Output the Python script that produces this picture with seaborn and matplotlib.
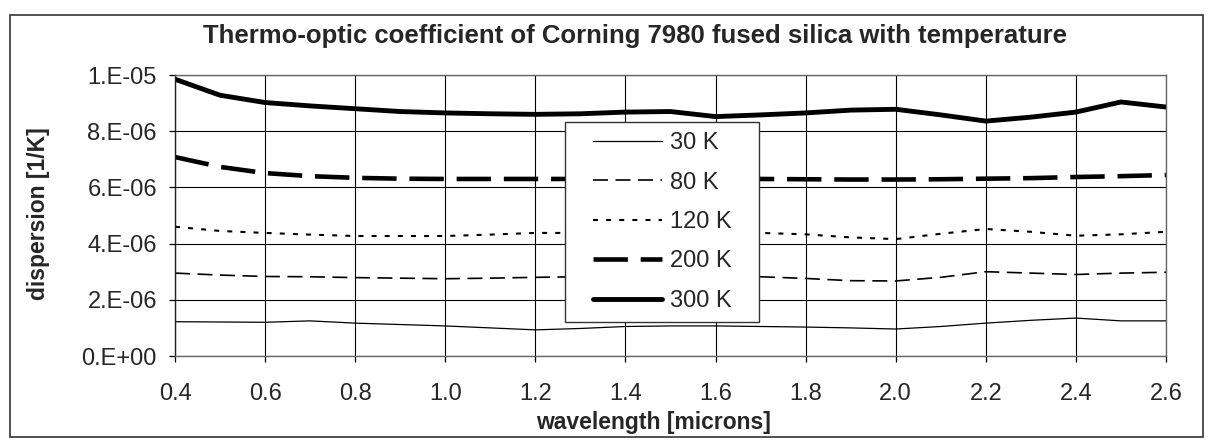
import matplotlib
matplotlib.use("Agg")
import matplotlib.pyplot as plt
import seaborn as sns
import numpy as np
import pandas as pd
from matplotlib.patches import Rectangle

# ---------------- data ----------------
wavelength = [0.4, 0.5, 0.6, 0.7, 0.8, 0.9, 1.0, 1.1, 1.2, 1.3, 1.4, 1.5,
              1.6, 1.7, 1.8, 1.9, 2.0, 2.1, 2.2, 2.3, 2.4, 2.5, 2.6]

k30 = [1.22, 1.21, 1.20, 1.25, 1.17, 1.12, 1.07, 1.00, 0.93, 0.98, 1.05, 1.07,
       1.07, 1.05, 1.03, 1.00, 0.96, 1.05, 1.17, 1.27, 1.35, 1.25, 1.25]
k80 = [2.95, 2.88, 2.83, 2.82, 2.79, 2.77, 2.75, 2.77, 2.80, 2.82, 2.82, 2.82,
       2.82, 2.82, 2.76, 2.68, 2.67, 2.80, 3.00, 2.95, 2.90, 2.95, 2.98]
k120 = [4.60, 4.45, 4.38, 4.32, 4.27, 4.27, 4.27, 4.32, 4.38, 4.38, 4.38, 4.38,
        4.38, 4.38, 4.33, 4.22, 4.16, 4.35, 4.52, 4.42, 4.28, 4.33, 4.42]
k200 = [7.08, 6.73, 6.51, 6.40, 6.34, 6.31, 6.30, 6.30, 6.30, 6.30, 6.30, 6.30,
        6.30, 6.30, 6.29, 6.28, 6.28, 6.29, 6.31, 6.33, 6.37, 6.40, 6.44]
k300 = [9.85, 9.28, 9.02, 8.90, 8.80, 8.70, 8.65, 8.62, 8.60, 8.62, 8.68, 8.70,
        8.52, 8.58, 8.65, 8.75, 8.78, 8.58, 8.36, 8.50, 8.68, 9.04, 8.86]
scale = 1e-6

series_labels = ["30 K", "80 K", "120 K", "200 K", "300 K"]
series_values = [k30, k80, k120, k200, k300]

x_ticks = [0.4, 0.6, 0.8, 1.0, 1.2, 1.4, 1.6, 1.8, 2.0, 2.2, 2.4, 2.6]
x_tick_labels = ["0.4", "0.6", "0.8", "1.0", "1.2", "1.4", "1.6", "1.8",
                 "2.0", "2.2", "2.4", "2.6"]
y_ticks = [0, 2e-6, 4e-6, 6e-6, 8e-6, 1e-5]
y_tick_labels = ["0.E+00", "2.E-06", "4.E-06", "6.E-06", "8.E-06", "1.E-05"]

title = "Thermo-optic coefficient of Corning 7980 fused silica with temperature"
xlabel = "wavelength [microns]"
ylabel = "dispersion [1/K]"

# ---------------- styling ----------------
sns.set_theme(style="white")
plt.rcParams['font.family'] = ['Liberation Sans', 'DejaVu Sans']

styles = [
    dict(lw=0.9, ls='-'),
    dict(lw=1.2, ls=(0, (9, 4.5))),
    dict(lw=1.5, ls=(0, (2.4, 3.9))),
    dict(lw=3.3, ls=(0, (7.5, 2.8))),
    dict(lw=3.5, ls='-'),
]

W, H = 1209, 440
fig = plt.figure(figsize=(W / 100, H / 100), dpi=100)
ax = fig.add_axes([175 / W, 1 - 356 / H, (1166 - 175) / W, (356 - 75) / H])

rows = []
for lab, vals in zip(series_labels, series_values):
    for w, v in zip(wavelength, vals):
        rows.append({"wavelength": w, "value": v * scale, "series": lab})
df = pd.DataFrame(rows)

for lab, st in zip(series_labels, styles):
    sub = df[df["series"] == lab]
    sns.lineplot(data=sub, x="wavelength", y="value", ax=ax, color="black",
                 linewidth=st['lw'], linestyle=st['ls'], label=lab)

ax.set_xlim(0.4, 2.6)
ax.set_ylim(0, 1e-5)
ax.set_xticks(x_ticks)
ax.set_xticklabels(x_tick_labels, fontsize=17)
ax.set_yticks(y_ticks)
ax.set_yticklabels(y_tick_labels, fontsize=17)
ax.tick_params(axis='both', which='major', direction='out', length=4.5,
               width=0.9, color='black', bottom=True, left=True)
ax.tick_params(axis='x', pad=15)
ax.tick_params(axis='y', pad=8.5)
ax.grid(True, color='black', linewidth=0.8)
ax.set_axisbelow(True)
for s in ax.spines.values():
    s.set_color('#666666')
    s.set_linewidth(1.0)
ax.spines['left'].set_color('#222222')
ax.set_xlabel("")
ax.set_ylabel("")

fig.text(635 / W, 1 - 36 / H, title, fontsize=18.5, fontweight='bold',
         ha='center', va='center')
fig.text(653 / W, 1 - 422 / H, xlabel, fontsize=16.5, fontweight='bold',
         ha='center', va='center')
fig.text(39 / W, 1 - 214 / H, ylabel, fontsize=16.5, fontweight='bold',
         ha='center', va='center', rotation=90)

# legend box drawn as a rectangle, legend entries centred inside it
bx0, bx1, by0, by1 = 565, 759, 122, 322
ax.add_patch(Rectangle(((bx0 - 175) / 991, (356 - by1) / 281),
                       (bx1 - bx0) / 991, (by1 - by0) / 281,
                       transform=ax.transAxes, facecolor='white',
                       edgecolor='#333333', linewidth=1.0, zorder=4.5))
leg = ax.legend(loc='center',
                bbox_to_anchor=(((bx0 + bx1) / 2 - 175) / 991, (356 - (by0 + by1) / 2) / 281),
                fontsize=17, frameon=False, handlelength=2.95, handletextpad=0.3,
                labelspacing=0.74, borderpad=0.2, borderaxespad=0)
leg.set_zorder(5)

# outer chart-area border
fig.patches.append(Rectangle((10 / W, 1 - 437 / H), (1203 - 10) / W, (437 - 15) / H,
                             transform=fig.transFigure, fill=False,
                             edgecolor='#333333', linewidth=1.2))

fig.savefig("out.png", dpi=100, facecolor='white')
